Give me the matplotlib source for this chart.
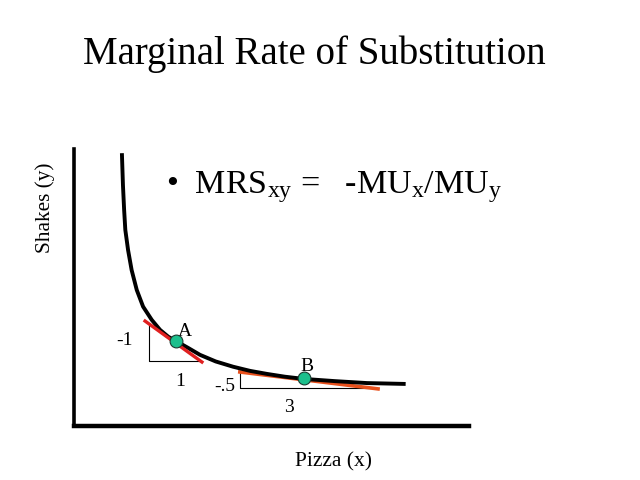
import matplotlib
matplotlib.use("Agg")
import matplotlib.pyplot as plt

plt.rcParams['font.family'] = ['Liberation Serif', 'DejaVu Serif']
plt.rcParams['mathtext.fontset'] = 'custom'
plt.rcParams['mathtext.rm'] = 'Liberation Serif'
plt.rcParams['mathtext.it'] = 'Liberation Serif'

# indifference curve (Pizza, Shakes)
curve_x = [1.215, 1.24, 1.27, 1.30, 1.37, 1.46, 1.59, 1.75, 1.97, 2.18, 2.39,
           2.58, 2.89, 3.19, 3.59, 4.03, 4.46, 4.89, 5.34, 5.82, 6.61, 7.42,
           8.35]
curve_y = [9.78, 8.70, 7.80, 7.08, 6.35, 5.63, 4.91, 4.31, 3.83, 3.47, 3.22,
           3.07, 2.82, 2.57, 2.33, 2.14, 1.99, 1.88, 1.78, 1.70, 1.62, 1.55,
           1.52]

# points A and B
pt_names = ['A', 'B']
pt_x = [2.58, 5.82]
pt_y = [3.07, 1.72]

# tangent lines
tanA_x = [1.80, 3.24]
tanA_y = [3.79, 2.31]
tanB_x = [4.20, 7.70]
tanB_y = [1.95, 1.34]

# rise / run triangles
triA_x = [1.90, 1.90, 3.24]
triA_y = [3.65, 2.35, 2.35]
triB_x = [4.20, 4.20, 7.67]
triB_y = [1.95, 1.37, 1.37]

rise_labels = ['-1', '-.5']
run_labels = ['1', '3']

fig = plt.figure(figsize=(6.4, 4.8), dpi=100)
fig.text(0.491, 0.888, 'Marginal Rate of Substitution', ha='center', va='center',
         fontsize=28)

ax = fig.add_axes([0.1156, 0.1125, 0.617, 0.577])
ax.set_xlim(0, 10)
ax.set_ylim(0, 10)
for s in ['top', 'right']:
    ax.spines[s].set_visible(False)
ax.spines['left'].set_linewidth(2.6)
ax.spines['bottom'].set_linewidth(3.2)
ax.set_xticks([])
ax.set_yticks([])
ax.set_xlabel('Pizza (x)', fontsize=15.5)
ax.set_ylabel('Shakes (y)', fontsize=15.3)
ax.xaxis.set_label_coords(0.656, -0.095)
ax.yaxis.set_label_coords(-0.048, 0.787)

ax.plot(triA_x, triA_y, color='black', lw=0.8)
ax.plot(triB_x, triB_y, color='black', lw=0.8)
ax.plot(curve_x, curve_y, color='black', lw=2.8, solid_joinstyle='round', zorder=3)
ax.plot(tanA_x, tanA_y, color='#e02020', lw=2.4, zorder=4)
ax.plot(tanB_x, tanB_y, color='#e8501c', lw=2.6, zorder=2)
ax.scatter(pt_x, pt_y, s=85, color='#1cbf8c', edgecolors='#1a3a30', lw=0.8, zorder=5)

ax.text(pt_x[0] + 0.05, pt_y[0] + 0.05, pt_names[0], fontsize=14, ha='left', va='bottom')
ax.text(pt_x[1] + 0.08, pt_y[1] + 0.12, pt_names[1], fontsize=14, ha='center', va='bottom')

ax.text(1.29, 3.07, rise_labels[0], fontsize=14, ha='center', va='center')
ax.text(2.68, 1.59, run_labels[0], fontsize=14, ha='center', va='center')
ax.text(3.82, 1.41, rise_labels[1], fontsize=14, ha='center', va='center')
ax.text(5.44, 0.65, run_labels[1], fontsize=14, ha='center', va='center')

ax.text(2.33, 8.62, '•  MRS$_{\\mathrm{xy}}$ =   -MU$_{\\mathrm{x}}$/MU$_{\\mathrm{y}}$',
        fontsize=24.5, ha='left', va='center')

fig.savefig('out.png', dpi=100)
